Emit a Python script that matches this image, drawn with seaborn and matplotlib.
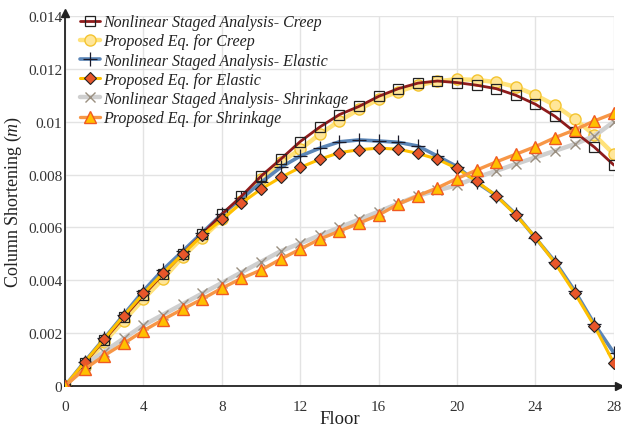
import matplotlib
matplotlib.use("Agg")
import matplotlib.pyplot as plt
import seaborn as sns
import numpy as np

floors = list(range(29))

creep_nsa = [0, 0.00087, 0.00174, 0.0026, 0.00344, 0.00423, 0.0050, 0.00575, 0.0065, 0.00718,
             0.00794, 0.00858, 0.00925, 0.0098, 0.01027, 0.01058, 0.01096, 0.01125, 0.01146, 0.01154,
             0.01148, 0.01138, 0.01125, 0.0110, 0.01066, 0.0102, 0.00961, 0.00904, 0.00836]
creep_prop = [0, 0.00072, 0.00166, 0.00247, 0.00329, 0.00405, 0.00488, 0.0056, 0.0063, 0.0070,
              0.00783, 0.00846, 0.00896, 0.00953, 0.01003, 0.01047, 0.01085, 0.01114, 0.01138, 0.01153,
              0.01161, 0.01158, 0.0115, 0.01132, 0.01101, 0.01062, 0.0101, 0.0095, 0.00877]
elastic_nsa = [0, 0.00092, 0.0018, 0.0027, 0.0036, 0.0044, 0.0051, 0.0058, 0.0065, 0.0071,
               0.0077, 0.00827, 0.0087, 0.009, 0.00924, 0.00931, 0.00927, 0.00922, 0.00908, 0.0087,
               0.0083, 0.0077, 0.0072, 0.0065, 0.0056, 0.0047, 0.0036, 0.00235, 0.00125]
elastic_prop = [0, 0.0009, 0.00178, 0.00266, 0.0035, 0.00427, 0.00499, 0.0057, 0.0063, 0.00692,
                0.00745, 0.00789, 0.00827, 0.00858, 0.00883, 0.00894, 0.00900, 0.00896, 0.0088, 0.00858,
                0.00823, 0.00774, 0.0072, 0.00647, 0.00562, 0.00465, 0.00352, 0.00228, 0.00086]
shrink_nsa = [0, 0.0008, 0.0013, 0.0018, 0.0023, 0.0027, 0.0031, 0.0035, 0.0039, 0.0043,
              0.0047, 0.0051, 0.0054, 0.0057, 0.006, 0.0063, 0.0066, 0.0069, 0.0072, 0.0074,
              0.0076, 0.00789, 0.00814, 0.0084, 0.00865, 0.0089, 0.00915, 0.00946, 0.0100]
shrink_prop = [0, 0.00064, 0.00115, 0.00161, 0.00209, 0.00251, 0.00291, 0.00329, 0.0037, 0.00407,
               0.00439, 0.0048, 0.00518, 0.00556, 0.00586, 0.00616, 0.00647, 0.00688, 0.0072, 0.0075,
               0.00785, 0.00817, 0.00848, 0.00877, 0.00906, 0.0094, 0.00969, 0.01003, 0.01032]

labels = ["Nonlinear Staged Analysis- Creep", "Proposed Eq. for Creep",
          "Nonlinear Staged Analysis- Elastic", "Proposed Eq. for Elastic",
          "Nonlinear Staged Analysis- Shrinkage", "Proposed Eq. for Shrinkage"]
x_ticks = [0, 4, 8, 12, 16, 20, 24, 28]
y_ticks = [0, 0.002, 0.004, 0.006, 0.008, 0.01, 0.012, 0.014]
y_ticklabels = ["0", "0.002", "0.004", "0.006", "0.008", "0.01", "0.012", "0.014"]

sns.set_style("white")
plt.rcParams["font.family"] = ["Liberation Serif", "DejaVu Serif"]
plt.rcParams["mathtext.fontset"] = "custom"
plt.rcParams["mathtext.rm"] = "Liberation Serif"
plt.rcParams["mathtext.it"] = "Liberation Serif:italic"

fig = plt.figure(figsize=(6.22, 4.27), dpi=100)
ax = fig.add_axes([0.1045, 0.0937, 0.8825, 0.8665])

sns.lineplot(x=floors, y=creep_prop, ax=ax, color="#FFE27A", lw=3.2, marker="o", markersize=8,
             markerfacecolor="#FFE699", markeredgecolor="#F4C430", markeredgewidth=1.0,
             label=labels[1], zorder=3)
sns.lineplot(x=floors, y=creep_nsa, ax=ax, color="#8E1B1B", lw=2.0, marker="s", markersize=7,
             markerfacecolor="none", markeredgecolor="#222222", markeredgewidth=0.9,
             label=labels[0], zorder=4)
sns.lineplot(x=floors, y=elastic_nsa, ax=ax, color="#5B86B8", lw=2.6, marker="+", markersize=10,
             markeredgecolor="#1A1A2A", markeredgewidth=0.9, label=labels[2], zorder=3)
sns.lineplot(x=floors, y=elastic_prop, ax=ax, color="#FFC000", lw=2.2, marker="D", markersize=6.5,
             markerfacecolor="#E8562A", markeredgecolor="#222222", markeredgewidth=0.8,
             label=labels[3], zorder=4)
sns.lineplot(x=floors, y=shrink_nsa, ax=ax, color="#CFCFCF", lw=3.2, marker="x", markersize=7,
             markeredgecolor="#9A8F80", markeredgewidth=1.0, label=labels[4], zorder=3)
sns.lineplot(x=floors, y=shrink_prop, ax=ax, color="#F79646", lw=2.4, marker="^", markersize=8,
             markerfacecolor="#FFC000", markeredgecolor="#F05A22", markeredgewidth=1.0,
             label=labels[5], zorder=4)

ax.set_xlim(0, 28)
ax.set_ylim(0, 0.014)
ax.set_xticks(x_ticks)
ax.set_yticks(y_ticks)
ax.set_yticklabels(y_ticklabels)
ax.tick_params(axis="both", labelsize=11, colors="#333333", length=0)
ax.tick_params(axis="x", pad=10)
ax.tick_params(axis="y", pad=2)
ax.grid(True, color="#E3E3E3", lw=1.0)
ax.set_axisbelow(True)
for s in ["top", "right"]:
    ax.spines[s].set_visible(False)
for s in ["left", "bottom"]:
    ax.spines[s].set_color("#222222")
    ax.spines[s].set_linewidth(1.3)
ax.spines["bottom"].set_bounds(0, 28.2)
ax.spines["left"].set_bounds(0, 0.01405)
ax.plot(28.25, 0, marker=">", color="#222222", markersize=6, clip_on=False, zorder=6)
ax.plot(0, 0.0141, marker="^", color="#222222", markersize=6, clip_on=False, zorder=6)

ax.set_xlabel("Floor", fontsize=13.5, labelpad=-2, color="#222222")
ax.set_ylabel("Column Shortening ($\\mathit{m}$)", fontsize=13, labelpad=3, color="#222222")

handles, labs = ax.get_legend_handles_labels()
order = [labs.index(l) for l in labels]
leg = ax.legend([handles[i] for i in order], [labs[i] for i in order],
                loc="upper left", bbox_to_anchor=(0.015, 1.022), frameon=False,
                prop={"family": "Liberation Serif", "style": "italic", "size": 11.5},
                handlelength=1.3, handletextpad=0.2, labelspacing=0.2, borderaxespad=0.0)
for t in leg.get_texts():
    t.set_color("#222222")

fig.savefig("out.png", dpi=100)
